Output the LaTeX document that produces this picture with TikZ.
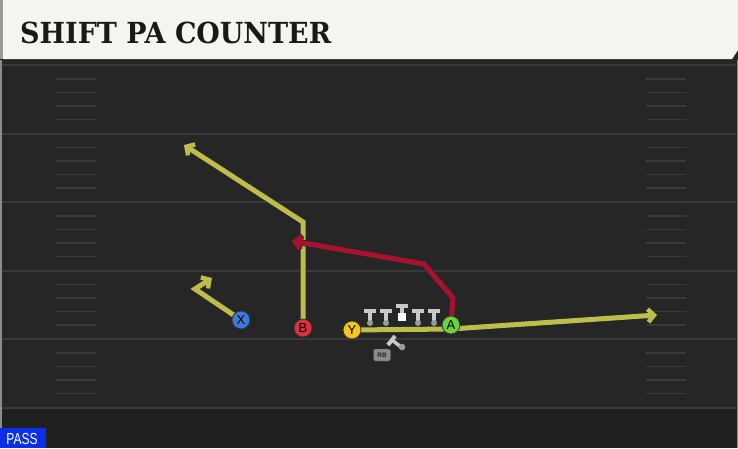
\documentclass[tikz,border=0pt]{standalone}
\usepackage{fontspec}
\setmainfont{Liberation Sans}
\newfontfamily\titlefont{DejaVu Serif}
\usetikzlibrary{arrows.meta}

\definecolor{field}{HTML}{262626}
\definecolor{fieldlow}{HTML}{202020}
\definecolor{yardline}{HTML}{3A3A3A}
\definecolor{bar}{HTML}{F6F4EE}
\definecolor{routeyel}{HTML}{BDBD4C}
\definecolor{routered}{HTML}{A8122F}
\definecolor{xblue}{HTML}{3D7AD8}
\definecolor{bred}{HTML}{E0303E}
\definecolor{yyel}{HTML}{F4C51C}
\definecolor{agreen}{HTML}{6BD23C}
\definecolor{olgray}{HTML}{C9C9C9}
\definecolor{oldot}{HTML}{9A9A9A}
\definecolor{passblue}{HTML}{0B2EE6}

\tikzset{
  player/.style={circle, draw=black!80, line width=0.8pt, minimum size=18pt,
    inner sep=0pt, font=\fontsize{13}{13}\selectfont},
  route/.style={line width=5pt, line join=miter,
    preaction={draw=black!85, line width=6.5pt,
      -{Straight Barb[length=6pt,width=14pt,line width=5.5pt]}},
    -{Straight Barb[length=6pt,width=13pt,line width=4.5pt]}},
  motion/.style={line width=5pt, preaction={draw=black!85, line width=6.5pt}},
  yard/.style={yardline, line width=2pt},
  hash/.style={yardline, line width=1.5pt},
}

\begin{document}
\begin{tikzpicture}[x=1pt, y=-1pt]
  \useasboundingbox (0,0) rectangle (738,448);

  % field
  \fill[field] (0,0) rectangle (738,448);
  \fill[fieldlow] (0,408) rectangle (738,448);
  \fill[black!85] (0,58) rectangle (738,65);
  \draw[black!45, line width=1.5pt] (1,60) -- (1,448);
  \draw[black!45, line width=1pt] (737,60) -- (737,448);
  \foreach \y in {65,133.5,202,270.5,339,408}
    \draw[yard] (2,\y) -- (736,\y);
  \foreach \y in {65,133.5,202,270.5,339} {
    \foreach \d in {14,27.5,41,54.5} {
      \draw[hash] (56,\y+\d) -- (96,\y+\d);
      \draw[hash] (646,\y+\d) -- (686,\y+\d);
    }
  }

  % title bar
  \fill[bar] (3,0) -- (738,0) -- (738,50) -- (732,59) -- (3,59) -- cycle;
  \fill[black!40] (0,0) rectangle (3,59);
  \node[anchor=base west, inner sep=0pt, text=black!90] (title) at (20,43)
    {\titlefont\bfseries\fontsize{29}{29}\selectfont\scalebox{0.93}[1]{SHIFT PA COUNTER}};

  % routes
  \coordinate (xcut) at (195,289);
  \coordinate (xend) at (212,278);
  \coordinate (bcut) at (303,222);
  \coordinate (bend) at (184,145);
  \coordinate (ymot) at (451,329);
  \coordinate (yend) at (657,315);
  \coordinate (aup) at (453,298);
  \coordinate (abreak) at (424,264);
  \coordinate (aend) at (292,241);

  \node (X) at (241,320) {};
  \node (B) at (303,328) {};
  \node (Y) at (352,330) {};
  \node (A) at (451,325) {};

  \draw[route, routeyel] (X.center) -- (xcut) -- (xend);
  \draw[route, routeyel] (B.center) -- (bcut) -- (bend);
  \draw[motion, routeyel] (Y.center) -- (ymot);
  \draw[route, routeyel] (ymot) -- (yend);
  \draw[route, routered] (A.center) -- (aup) -- (abreak) -- (aend);

  % line
  \foreach \x in {370,386,418,434} {
    \draw[olgray, line width=3.5pt] (\x,312) -- (\x,322);
    \draw[olgray, line width=4pt] (\x-6,311) -- (\x+6,311);
    \fill[oldot] (\x,323) circle (3pt);
  }
  \draw[olgray, line width=4pt] (396,306) -- (408,306);
  \draw[olgray, line width=3.5pt] (402,306) -- (402,313);
  \fill[white] (398,312.5) rectangle (406,320.5);

  % running back
  \draw[olgray, line width=3.5pt] (392,340) -- (401,347);
  \draw[olgray, line width=4pt] (388,345) -- (395,336);
  \fill[oldot] (402,347) circle (3.3pt);
  \node[draw=black!70, fill=black!45, rounded corners=1.5pt, inner sep=1pt,
    minimum width=17pt, minimum height=12pt, text=black!85,
    font=\fontsize{6.5}{6.5}\selectfont\bfseries] (RB) at (382,355) {RB};

  % players
  \node[player, fill=xblue] (X) at (241,320) {X};
  \node[player, fill=bred] (B) at (303,328) {B};
  \node[player, fill=yyel] (Y) at (352,330) {Y};
  \node[player, fill=agreen] (A) at (451,325) {A};

  % play type
  \fill[passblue] (0,428) rectangle (46,448);
  \node[text=white, font=\fontsize{16}{16}\selectfont, inner sep=0pt] (pass) at (22,439)
    {\scalebox{0.75}[1]{PASS}};
\end{tikzpicture}
\end{document}
